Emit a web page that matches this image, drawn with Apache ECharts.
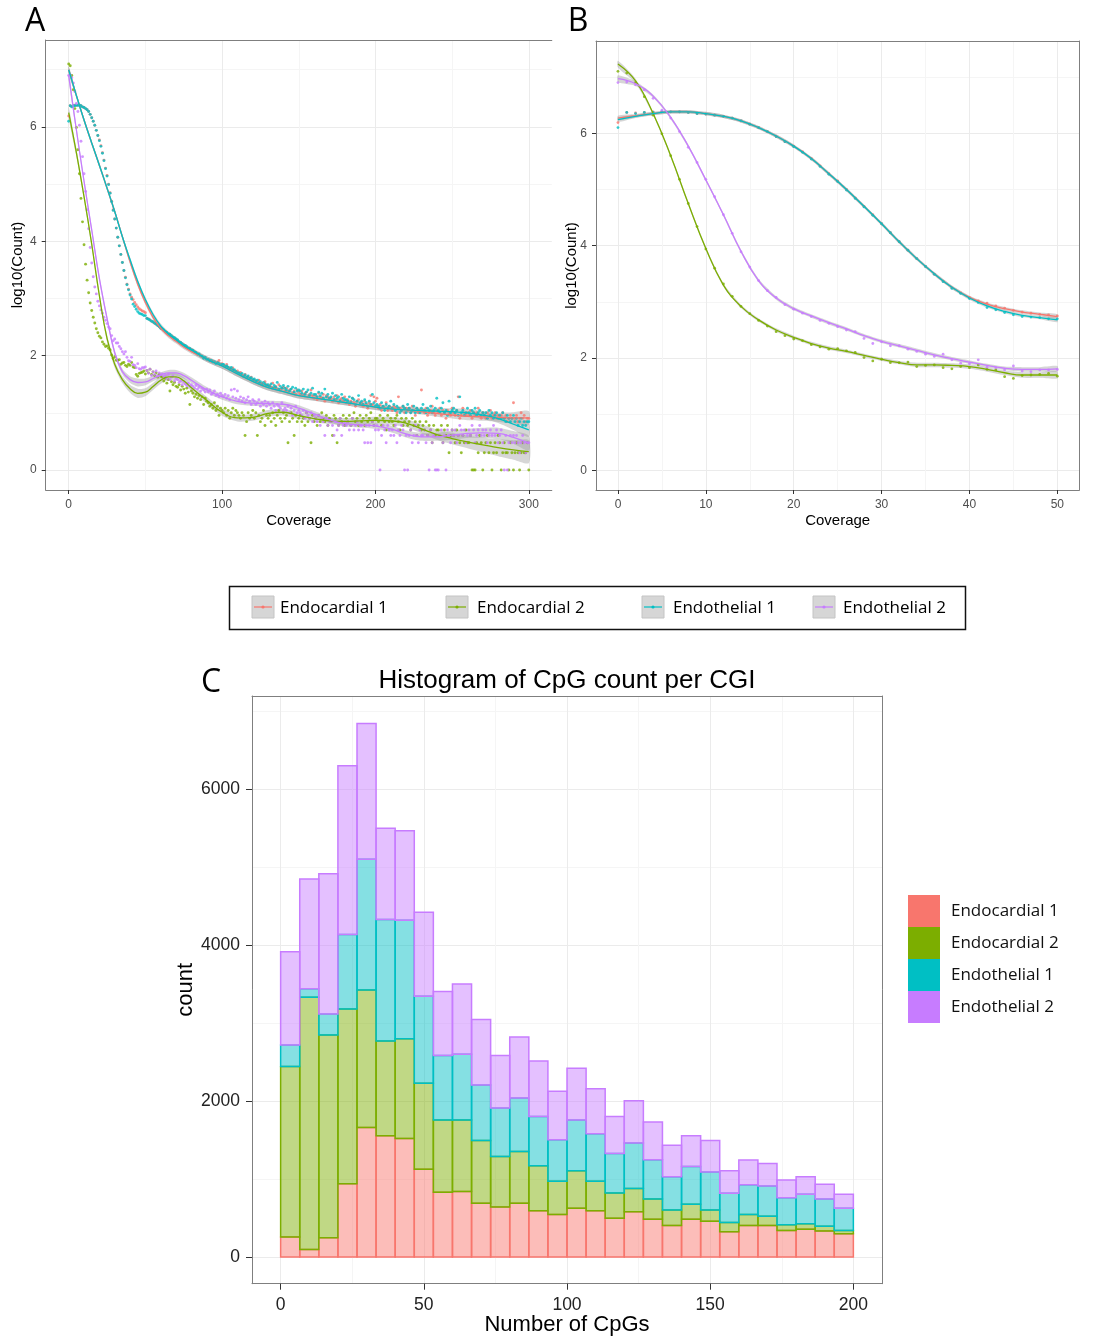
<!DOCTYPE html>
<html><head><meta charset="utf-8">
<script src="https://cdn.jsdelivr.net/npm/echarts@6/dist/echarts.min.js"></script>
<style>html,body{margin:0;padding:0;background:#fff}#chart{width:1107px;height:1337px}</style>
</head><body><div id="chart"></div>
<script>
// ---------- names & colours ----------
const seriesNames = ['Endocardial 1', 'Endocardial 2', 'Endothelial 1', 'Endothelial 2'];
const seriesColors = ['#F8766D', '#7CAE00', '#00BFC4', '#C77CFF'];

// ---------- panel A/B points: log10(Count) at coverage 0..50 ----------
const coverageLow = [0,1,2,3,4,5,6,7,8,9,10,11,12,13,14,15,16,17,18,19,20,21,22,23,24,25,26,27,28,29,30,31,32,33,34,35,36,37,38,39,40,41,42,43,44,45,46,47,48,49,50];
const log10Endocardial1 = [6.19,6.37,6.36,6.37,6.38,6.38,6.38,6.38,6.37,6.35,6.34,6.32,6.30,6.27,6.22,6.16,6.10,6.03,5.94,5.85,5.77,5.67,5.55,5.42,5.28,5.15,5.00,4.85,4.70,4.55,4.39,4.23,4.07,3.92,3.77,3.63,3.49,3.37,3.25,3.16,3.08,3.02,2.98,2.93,2.89,2.85,2.82,2.80,2.78,2.77,2.75];
const log10Endocardial2 = [7.10,7.07,6.90,6.65,6.32,5.99,5.60,5.18,4.75,4.34,3.94,3.60,3.32,3.10,2.92,2.79,2.67,2.57,2.47,2.40,2.34,2.31,2.24,2.20,2.16,2.17,2.13,2.10,2.01,1.95,1.98,1.92,1.92,1.93,1.85,1.87,1.88,1.83,1.81,1.85,1.83,1.88,1.80,1.79,1.67,1.64,1.69,1.70,1.71,1.73,1.68];
const log10Endothelial1 = [6.10,6.37,6.35,6.37,6.37,6.38,6.38,6.38,6.37,6.35,6.34,6.32,6.30,6.27,6.22,6.16,6.10,6.03,5.94,5.85,5.76,5.66,5.54,5.41,5.27,5.14,4.99,4.84,4.69,4.54,4.39,4.23,4.07,3.92,3.77,3.63,3.49,3.36,3.24,3.15,3.06,2.99,2.90,2.86,2.81,2.77,2.74,2.73,2.72,2.70,2.70];
const log10Endothelial2 = [6.90,6.91,6.86,6.77,6.62,6.41,6.27,6.03,5.75,5.48,5.18,4.87,4.55,4.22,3.89,3.62,3.38,3.20,3.08,2.95,2.87,2.80,2.74,2.67,2.62,2.56,2.50,2.47,2.35,2.26,2.29,2.22,2.22,2.16,2.12,2.07,2.03,2.07,1.97,1.91,1.90,1.97,1.84,1.83,1.79,1.86,1.77,1.76,1.79,1.79,1.80];

// ---------- panel A points: raw counts at coverage 51..300 ----------
const coverageHighStart = 51;
const countsEndocardial1 = [452,440,418,405,383,371,352,340,318,305, 290,276,268,251,242,233,220,212,201,193, 185,176,168,160,156,148,141,137,131,128, 123,118,112,108,105,101,96,92,91,87, 84,83,79,80,76,74,77,82,70,72,
 68,65,70,62,60,58,61,55,52,54, 48,51,45,44,47,41,43,39,42,37, 38,35,34,37,32,33,30,35,31,29, 30,28,33,27,29,26,31,25,27,28, 24,27,23,25,26,22,24,21,25,23,
 21,24,20,22,23,19,21,25,20,18, 20,17,22,19,18,21,16,20,19,17, 18,16,19,17,20,15,17,18,16,19, 15,17,14,16,18,15,13,16,17,14, 15,13,16,14,12,15,20,14,19,16,
 18,12,14,11,13,12,15,11,13,12, 11,13,12,10,19,12,11,13,10,12, 11,12,10,13,11,9,12,10,11,25, 11,10,12,9,10,11,13,10,9,11, 10,12,9,11,10,8,11,10,9,12,
 10,9,11,19,8,9,12,10,9,10, 9,11,8,10,9,10,12,9,8,10, 9,8,10,9,11,8,9,10,8,9, 8,9,10,8,9,7,8,9,8,15, 8,9,7,8,10,8,9,7,8,8];
const countsEndocardial2 = [55,50,58,47,52,45,50,42,47,44, 42,36,40,33,38,24,35,31,34,29, 28,31,25,29,26,22,27,23,14,24, 22,19,21,18,20,17,19,14,18,16, 15,13,14,12,15,11,13,9,12,11,
 10,12,9,11,8,10,12,9,11,10, 9,8,10,9,4,7,10,8,9,11, 8,10,4,9,7,8,11,6,9,8, 9,7,10,8,6,9,11,8,7,10, 8,9,3,7,10,8,4,9,7,8,
 9,7,8,6,10,7,8,3,9,7, 8,6,9,7,10,8,7,9,6,8, 7,4,9,8,3,6,8,7,9,6, 8,7,9,6,8,10,7,8,6,9, 7,8,6,9,7,8,10,7,6,8,
 8,7,9,6,8,7,5,9,7,8, 7,6,8,9,7,5,8,6,7,8, 6,7,5,8,6,7,4,6,7,5, 6,5,7,4,6,5,3,6,4,5, 5,4,6,3,5,4,6,2,4,5,
 4,3,5,4,3,2,4,3,5,3, 3,4,1,1,1,3,2,4,3,1, 2,3,4,2,3,1,2,3,2,4, 3,1,2,3,2,2,1,3,2,1, 2,3,2,1,2,3,2,2,3,1];
const countsEndothelial1 = [445,432,420,398,392,368,356,335,322,300, 294,280,262,255,240,236,222,210,205,195, 188,174,170,162,152,150,143,134,133,126, 125,116,114,106,107,99,98,90,93,86, 86,81,82,77,78,73,75,72,69,70,
 70,64,66,63,58,62,56,57,53,50, 50,47,49,43,46,42,44,40,41,38, 39,36,37,33,35,31,34,32,30,31, 29,32,27,30,28,34,26,29,27,30, 27,25,29,24,26,28,23,27,24,25,
 24,22,26,21,23,25,20,22,27,21, 21,19,23,20,22,18,26,19,21,18, 19,22,17,20,18,19,16,21,18,17, 17,16,19,15,18,17,14,16,20,15, 16,14,17,15,13,16,14,21,15,13,
 14,13,12,15,13,11,14,12,13,16, 12,14,11,13,12,10,11,13,12,10, 14,12,10,11,13,10,12,11,10,12, 14,11,10,12,11,13,10,11,12,18, 11,10,12,15,10,11,9,16,10,11,
 12,10,11,9,19,10,11,9,10,12, 10,9,11,10,12,9,10,11,9,10, 9,10,8,11,9,10,8,9,10,8, 9,8,10,8,7,9,8,7,8,9, 7,8,6,7,8,6,7,6,7,7];
const countsEndothelial2 = [55,49,58,45,52,47,54,44,50,46, 48,43,45,40,47,38,42,44,36,40, 38,34,36,31,35,32,30,33,29,31, 29,27,30,26,28,24,27,25,23,26, 23,25,21,22,24,20,21,19,22,20,
 19,21,18,20,17,25,19,26,18,24, 17,19,16,18,15,17,19,16,14,17, 16,14,15,17,13,15,14,16,13,15, 14,12,15,13,11,14,13,12,15,11, 12,11,13,10,12,9,11,13,10,11,
 10,9,11,8,10,9,8,10,7,9, 8,7,9,6,8,7,4,8,6,7, 7,6,4,7,5,6,8,4,6,7, 6,7,5,6,8,5,6,7,5,6, 6,5,3,6,3,6,3,7,6,5,
 6,5,1,4,6,5,3,6,5,4, 5,4,6,3,5,4,6,5,1,4, 1,4,5,3,4,6,4,3,5,4, 4,5,3,4,1,5,3,4,1,1, 1,4,5,3,4,1,5,4,3,5,
 4,5,3,4,6,5,4,5,3,4, 5,4,6,5,3,4,5,6,4,5, 4,5,3,4,5,4,6,4,5,3, 4,5,3,1,4,1,3,4,3,4, 3,4,3,2,3,4,3,2,3,3];

// ---------- panel A smooth fits (value, ribbon half-width) ----------
const smoothKnotsA = [0,5,10,15,20,25,30,35,40,45,50,55,60,65,70,75,80,90,100,110,120,130,140,150,160,170,180,190,200,210,220,230,240,250,260,270,280,290,300];
const smoothAEndocardial1 = [7.00,6.55,6.12,5.72,5.33,4.93,4.52,4.08,3.64,3.25,2.93,2.67,2.48,2.35,2.25,2.15,2.07,1.94,1.82,1.68,1.55,1.44,1.37,1.30,1.26,1.22,1.18,1.14,1.10,1.07,1.05,1.02,0.99,0.96,0.94,0.93,0.92,0.91,0.91];
const smoothAEndocardial2 = [6.25,5.55,4.78,3.95,3.05,2.30,1.85,1.58,1.42,1.34,1.36,1.46,1.57,1.63,1.63,1.56,1.44,1.22,1.01,0.91,0.92,0.99,1.01,0.95,0.90,0.86,0.85,0.86,0.87,0.86,0.82,0.72,0.62,0.55,0.49,0.44,0.39,0.35,0.32];
const smoothAEndothelial1 = [7.00,6.55,6.12,5.72,5.33,4.93,4.52,4.08,3.68,3.30,2.98,2.72,2.52,2.38,2.28,2.18,2.10,1.94,1.82,1.68,1.55,1.44,1.37,1.30,1.26,1.22,1.18,1.14,1.10,1.07,1.05,1.04,1.03,1.02,1.00,0.96,0.90,0.80,0.70];
const smoothAEndothelial2 = [6.90,5.95,5.05,4.20,3.35,2.65,2.05,1.72,1.58,1.53,1.54,1.60,1.66,1.70,1.70,1.65,1.57,1.40,1.28,1.20,1.17,1.16,1.15,1.08,0.98,0.88,0.81,0.79,0.77,0.72,0.63,0.58,0.58,0.61,0.64,0.65,0.64,0.57,0.47];
const bandAEndocardial1 = [0.06,0.04,0.04,0.04,0.04,0.04,0.04,0.04,0.04,0.04,0.04,0.04,0.04,0.04,0.04,0.04,0.04,0.05,0.05,0.05,0.05,0.05,0.05,0.05,0.05,0.05,0.05,0.05,0.05,0.05,0.05,0.05,0.06,0.06,0.07,0.07,0.08,0.10,0.12];
const bandAEndocardial2 = [0.10,0.07,0.06,0.06,0.06,0.06,0.06,0.06,0.07,0.08,0.07,0.06,0.06,0.06,0.06,0.06,0.06,0.06,0.06,0.06,0.06,0.06,0.06,0.06,0.06,0.06,0.06,0.06,0.06,0.07,0.07,0.08,0.09,0.10,0.11,0.13,0.15,0.17,0.20];
const bandAEndothelial1 = [0.06,0.04,0.04,0.04,0.04,0.04,0.04,0.04,0.04,0.04,0.04,0.04,0.04,0.04,0.04,0.04,0.04,0.05,0.05,0.05,0.05,0.05,0.05,0.05,0.05,0.05,0.05,0.05,0.05,0.05,0.05,0.05,0.06,0.06,0.07,0.07,0.08,0.10,0.12];
const bandAEndothelial2 = [0.09,0.06,0.05,0.05,0.05,0.05,0.05,0.05,0.06,0.07,0.06,0.05,0.05,0.05,0.05,0.05,0.05,0.05,0.05,0.05,0.05,0.05,0.05,0.05,0.05,0.05,0.05,0.05,0.05,0.06,0.06,0.07,0.07,0.08,0.08,0.09,0.10,0.11,0.13];

// ---------- panel B smooth fits ----------
const smoothKnotsB = [0,2,4,6,8,10,12,14,16,18,20,22,24,26,28,30,32,34,36,38,40,42,44,46,48,50];
const smoothBEndocardial1 = [6.27,6.31,6.35,6.38,6.38,6.35,6.30,6.22,6.10,5.95,5.77,5.55,5.28,5.00,4.70,4.39,4.07,3.77,3.50,3.26,3.08,2.96,2.88,2.82,2.78,2.74];
const smoothBEndocardial2 = [7.23,6.93,6.35,5.60,4.75,3.95,3.30,2.92,2.68,2.50,2.37,2.26,2.18,2.12,2.05,1.98,1.92,1.88,1.88,1.87,1.85,1.80,1.74,1.70,1.70,1.70];
const smoothBEndothelial1 = [6.24,6.30,6.35,6.38,6.38,6.35,6.30,6.22,6.10,5.95,5.77,5.55,5.28,5.00,4.70,4.39,4.07,3.77,3.50,3.26,3.07,2.93,2.83,2.76,2.72,2.68];
const smoothBEndothelial2 = [6.97,6.88,6.66,6.28,5.77,5.17,4.55,3.90,3.38,3.07,2.88,2.75,2.63,2.52,2.40,2.30,2.22,2.14,2.06,1.99,1.93,1.87,1.82,1.80,1.80,1.81];
const bandBEndocardial1 = [0.04,0.03,0.03,0.03,0.03,0.03,0.03,0.03,0.03,0.03,0.03,0.03,0.03,0.03,0.03,0.03,0.03,0.03,0.03,0.03,0.03,0.03,0.03,0.03,0.03,0.04];
const bandBEndocardial2 = [0.06,0.04,0.03,0.03,0.03,0.03,0.03,0.03,0.03,0.03,0.03,0.03,0.03,0.03,0.03,0.03,0.03,0.04,0.04,0.04,0.04,0.04,0.04,0.05,0.05,0.06];
const bandBEndothelial1 = [0.04,0.03,0.03,0.03,0.03,0.03,0.03,0.03,0.03,0.03,0.03,0.03,0.03,0.03,0.03,0.03,0.03,0.03,0.03,0.03,0.03,0.03,0.03,0.03,0.03,0.04];
const bandBEndothelial2 = [0.06,0.04,0.03,0.03,0.03,0.03,0.03,0.03,0.03,0.03,0.03,0.03,0.03,0.03,0.03,0.03,0.03,0.03,0.03,0.03,0.03,0.03,0.03,0.04,0.04,0.05];

// ---------- panel C histogram (30 bins over 0..200) ----------
const cpgBinEdges = [0,6.67,13.33,20,26.67,33.33,40,46.67,53.33,60,66.67,73.33,80,86.67,93.33,100,106.67,113.33,120,126.67,133.33,140,146.67,153.33,160,166.67,173.33,180,186.67,193.33,200];
const histEndocardial1 = [256,95,247,939,1660,1556,1518,1124,830,840,688,640,688,593,545,626,593,498,579,484,403,484,460,323,403,403,341,356,332,299];
const histEndocardial2 = [2187,3235,2599,2239,1764,1214,1280,1105,925,915,806,650,664,578,427,479,379,323,298,261,199,194,142,118,142,119,72,71,62,42];
const histEndothelial1 = [275,109,270,958,1675,1556,1518,1115,830,844,711,621,687,631,532,650,607,507,584,502,427,484,489,375,380,389,346,379,351,285];
const histEndothelial2 = [1195,1408,1798,2163,1740,1171,1148,1076,820,901,840,674,783,712,621,664,579,474,541,484,403,394,403,289,318,289,228,223,189,180];

// ---------- tick labels ----------
const ticksAx = [0,100,200,300], minorAx = [50,150,250];
const ticksBx = [0,10,20,30,40,50], minorBx = [5,15,25,35,45];
const ticksABy = [0,2,4,6], minorABy = [1,3,5,7];
const ticksCx = [0,50,100,150,200], minorCx = [25,75,125,175];
const ticksCy = [0,2000,4000,6000], minorCy = [1000,3000,5000,7000];

// ================= build =================
const lowSets = [log10Endocardial1, log10Endocardial2, log10Endothelial1, log10Endothelial2];
const highSets = [countsEndocardial1, countsEndocardial2, countsEndothelial1, countsEndothelial2];
const smoothA = [smoothAEndocardial1, smoothAEndocardial2, smoothAEndothelial1, smoothAEndothelial2];
const bandA = [bandAEndocardial1, bandAEndocardial2, bandAEndothelial1, bandAEndothelial2];
const smoothB = [smoothBEndocardial1, smoothBEndocardial2, smoothBEndothelial1, smoothBEndothelial2];
const bandB = [bandBEndocardial1, bandBEndocardial2, bandBEndothelial1, bandBEndothelial2];
const hists = [histEndocardial1, histEndocardial2, histEndothelial1, histEndothelial2];

const SANS = 'Liberation Sans';
const HUM = 'Open Sans';

function rgba(hex, a) {
  const n = parseInt(hex.slice(1), 16);
  return 'rgba(' + (n >> 16) + ',' + ((n >> 8) & 255) + ',' + (n & 255) + ',' + a + ')';
}
const plain = v => String(v);

function majorX(gridIndex, min, max, ticks, o) {
  return {
    type: 'value', gridIndex, min, max, position: 'bottom',
    axisLine: { show: true, onZero: false, lineStyle: { color: '#7f7f7f', width: 1 } },
    axisTick: { show: true, customValues: ticks, length: o.tickLen, lineStyle: { color: '#333' } },
    axisLabel: { show: true, customValues: ticks, formatter: plain, color: o.labelColor, fontSize: o.fontSize, fontFamily: SANS, margin: o.margin },
    splitLine: { show: true, lineStyle: { color: '#ebebeb', width: 1 } },
    name: o.name, nameLocation: 'middle', nameGap: o.nameGap, nameMoveOverlap: false,
    nameTextStyle: { fontFamily: SANS, fontSize: o.nameSize, color: '#000' }
  };
}
function minorX(gridIndex, min, max, ticks) {
  return {
    type: 'value', gridIndex, min, max, position: 'top',
    axisLine: { show: true, onZero: false, lineStyle: { color: '#7f7f7f', width: 1 } },
    axisTick: { show: false, customValues: ticks },
    axisLabel: { show: false },
    splitLine: { show: true, lineStyle: { color: '#f5f5f5', width: 1 } }
  };
}
function majorY(gridIndex, min, max, ticks, o) {
  return {
    type: 'value', gridIndex, min, max, position: 'left',
    axisLine: { show: true, onZero: false, lineStyle: { color: '#7f7f7f', width: 1 } },
    axisTick: { show: true, customValues: ticks, length: o.tickLen, lineStyle: { color: '#333' } },
    axisLabel: { show: true, customValues: ticks, formatter: plain, color: o.labelColor, fontSize: o.fontSize, fontFamily: SANS, margin: o.margin },
    splitLine: { show: true, lineStyle: { color: '#ebebeb', width: 1 } },
    name: o.name, nameLocation: 'middle', nameGap: o.nameGap, nameRotate: 90, nameMoveOverlap: false,
    nameTextStyle: { fontFamily: SANS, fontSize: o.nameSize, color: '#000' }
  };
}
function minorY(gridIndex, min, max, ticks, showLine) {
  return {
    type: 'value', gridIndex, min, max, position: 'right',
    axisLine: { show: showLine, onZero: false, lineStyle: { color: '#7f7f7f', width: 1 } },
    axisTick: { show: false, customValues: ticks },
    axisLabel: { show: false },
    splitLine: { show: true, lineStyle: { color: '#f5f5f5', width: 1 } }
  };
}

const smallAxis = { tickLen: 4, labelColor: '#4d4d4d', fontSize: 12, margin: 9, nameSize: 15 };
const xAxes = [
  majorX(0, -15, 315, ticksAx, Object.assign({}, smallAxis, { name: 'Coverage', nameGap: 23 })),
  minorX(0, -15, 315, minorAx),
  majorX(1, -2.5, 52.5, ticksBx, Object.assign({}, smallAxis, { name: 'Coverage', nameGap: 23 })),
  minorX(1, -2.5, 52.5, minorBx),
  majorX(2, -10, 210, ticksCx, { tickLen: 6, labelColor: '#222', fontSize: 17.5, margin: 12, name: 'Number of CpGs', nameGap: 30, nameSize: 22 }),
  minorX(2, -10, 210, minorCx)
];
const yAxes = [
  majorY(0, -0.35, 7.52, ticksABy, Object.assign({}, smallAxis, { margin: 9, name: 'log10(Count)', nameGap: 20 })),
  minorY(0, -0.35, 7.52, minorABy, false),
  majorY(1, -0.345, 7.64, ticksABy, Object.assign({}, smallAxis, { margin: 9, name: 'log10(Count)', nameGap: 17 })),
  minorY(1, -0.345, 7.64, minorABy, true),
  majorY(2, -342, 7192, ticksCy, { tickLen: 6, labelColor: '#222', fontSize: 17.5, margin: 12, name: 'count', nameGap: 55, nameSize: 22 }),
  minorY(2, -342, 7192, minorCy, true)
];

const series = [];
// points (drawn first, as in ggplot)
function pointData(i, withHigh) {
  const out = coverageLow.map((c, k) => [c, lowSets[i][k]]);
  if (withHigh) highSets[i].forEach((cnt, k) => out.push([coverageHighStart + k, Math.log10(cnt)]));
  return out;
}
for (let i = 0; i < 4; i++) {
  series.push({ type: 'scatter', xAxisIndex: 0, yAxisIndex: 0, data: pointData(i, true), symbolSize: 2.9,
    itemStyle: { color: seriesColors[i] }, silent: true, clip: true });
}
for (let i = 0; i < 4; i++) {
  series.push({ type: 'scatter', xAxisIndex: 2, yAxisIndex: 2, data: pointData(i, false), symbolSize: 2.8,
    itemStyle: { color: seriesColors[i] }, silent: true, clip: true });
}
// ribbon + line
function bandSeries(xi, yi, knots, mid, hw) {
  return {
    type: 'custom', xAxisIndex: xi, yAxisIndex: yi, clip: true, silent: true,
    data: knots.map((k, j) => [k, mid[j] - hw[j], mid[j] + hw[j]]),
    encode: { x: 0, y: [1, 2] },
    renderItem(params, api) {
      if (params.dataIndexInside !== 0) return null;
      const n = params.dataInsideLength;
      const up = [], lo = [];
      for (let j = 0; j < n; j++) {
        up.push(api.coord([api.value(0, j), api.value(2, j)]));
        lo.push(api.coord([api.value(0, j), api.value(1, j)]));
      }
      return { type: 'polygon', shape: { points: up.concat(lo.reverse()), smooth: 0.25 },
        style: { fill: 'rgba(153,153,153,0.4)' } };
    }
  };
}
function lineSeries(xi, yi, knots, vals, color) {
  return { type: 'line', xAxisIndex: xi, yAxisIndex: yi, data: knots.map((k, j) => [k, vals[j]]),
    smooth: 0.45, showSymbol: false, symbol: 'none', silent: true, clip: true,
    lineStyle: { color, width: 1.3 } };
}
for (let i = 0; i < 4; i++) {
  series.push(bandSeries(0, 0, smoothKnotsA, smoothA[i], bandA[i]));
  series.push(lineSeries(0, 0, smoothKnotsA, smoothA[i], seriesColors[i]));
}
for (let i = 0; i < 4; i++) {
  series.push(bandSeries(2, 2, smoothKnotsB, smoothB[i], bandB[i]));
  series.push(lineSeries(2, 2, smoothKnotsB, smoothB[i], seriesColors[i]));
}
// stacked histogram
const stackBase = cpgBinEdges.slice(1).map(() => 0);
for (let i = 0; i < 4; i++) {
  const data = hists[i].map((v, j) => {
    const row = [cpgBinEdges[j], cpgBinEdges[j + 1], stackBase[j], stackBase[j] + v];
    stackBase[j] += v;
    return row;
  });
  const color = seriesColors[i];
  series.push({
    type: 'custom', name: seriesNames[i], xAxisIndex: 4, yAxisIndex: 4, data, silent: true,
    itemStyle: { color },
    encode: { x: [0, 1], y: [2, 3] },
    renderItem(params, api) {
      const p0 = api.coord([api.value(0), api.value(3)]);
      const p1 = api.coord([api.value(1), api.value(2)]);
      return { type: 'rect', shape: { x: p0[0], y: p0[1], width: p1[0] - p0[0], height: p1[1] - p0[1] },
        style: { fill: rgba(color, 0.48), stroke: color, lineWidth: 1.5 } };
    }
  });
}

// middle legend (ggplot-style keys) as graphics
const keyX = [252, 446, 642, 813];
const textX = [280, 477, 673, 843];
const graphics = [
  { type: 'rect', shape: { x: 229.5, y: 586.5, width: 736, height: 43 }, style: { fill: 'none', stroke: '#111', lineWidth: 1.5 } },
  { type: 'text', x: 35, y: 22, style: { text: 'A', font: '32px "Open Sans"', fill: '#000', align: 'center', verticalAlign: 'middle' } },
  { type: 'text', x: 578, y: 22, style: { text: 'B', font: '32px "Open Sans"', fill: '#000', align: 'center', verticalAlign: 'middle' } },
  { type: 'text', x: 211, y: 683, style: { text: 'C', font: '32px "Open Sans"', fill: '#000', align: 'center', verticalAlign: 'middle' } },
  { type: 'text', x: 567, y: 681, style: { text: 'Histogram of CpG count per CGI', font: '26px "Liberation Sans"', fill: '#000', align: 'center', verticalAlign: 'middle' } }
];
for (let i = 0; i < 4; i++) {
  graphics.push({ type: 'rect', shape: { x: keyX[i], y: 596, width: 22, height: 22 }, style: { fill: '#d6d6d6', stroke: '#c4c4c4', lineWidth: 1 } });
  graphics.push({ type: 'line', shape: { x1: keyX[i] + 2, y1: 607, x2: keyX[i] + 20, y2: 607 }, style: { stroke: seriesColors[i], lineWidth: 1.2 } });
  graphics.push({ type: 'circle', shape: { cx: keyX[i] + 11, cy: 607, r: 1.6 }, style: { fill: seriesColors[i] } });
  graphics.push({ type: 'text', x: textX[i], y: 608, style: { text: seriesNames[i], font: '17px "Open Sans"', fill: '#000', verticalAlign: 'middle' } });
}

const option = {
  animation: false,
  backgroundColor: '#fff',
  grid: [
    { left: 45.7, top: 40, width: 506.1, height: 450, containLabel: false, outerBoundsMode: 'none' },
    { left: 596, top: 41, width: 483.3, height: 449, containLabel: false, outerBoundsMode: 'none' },
    { left: 252, top: 696, width: 630, height: 587.7, containLabel: false, outerBoundsMode: 'none' }
  ],
  xAxis: xAxes,
  yAxis: yAxes,
  legend: {
    data: seriesNames, orient: 'vertical', left: 908, top: 895, padding: 0, itemWidth: 32, itemHeight: 32, itemGap: 0,
    icon: 'rect', selectedMode: false,
    textStyle: { fontFamily: HUM, fontSize: 17, color: '#111', padding: [0, 0, 0, 6] }
  },
  series,
  graphic: graphics
};
const chart = echarts.init(document.getElementById('chart'));
chart.setOption(option);
</script></body></html>
